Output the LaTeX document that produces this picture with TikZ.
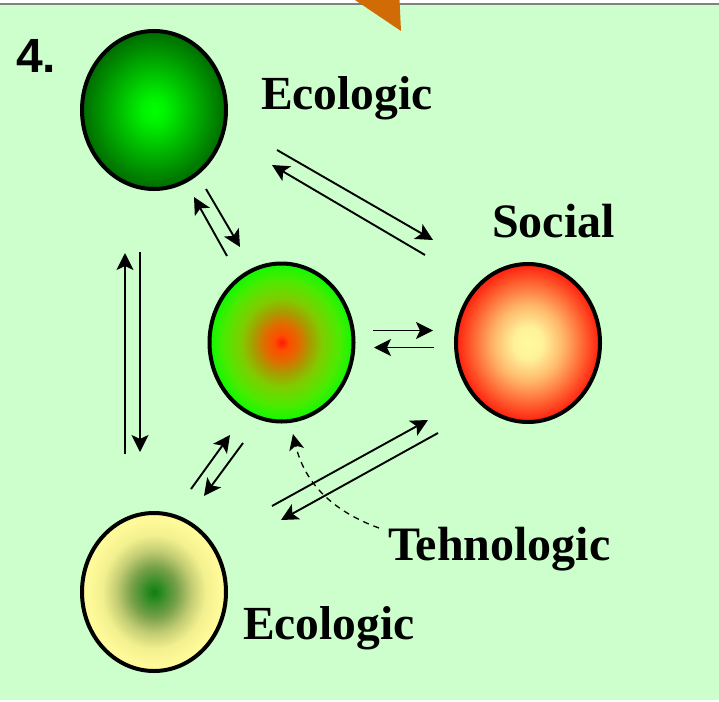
\documentclass[tikz,border=0pt]{standalone}
\usepackage{fontspec}
\setmainfont{Liberation Serif}
\setsansfont{Liberation Sans}
\usetikzlibrary{shapes.geometric,arrows.meta}
\definecolor{bgg}{RGB}{204,255,204}
\definecolor{ora}{RGB}{209,107,5}
\pgfdeclareradialshading{shGreen}{\pgfpoint{0bp}{0bp}}{
  rgb(0bp)=(0,1,0); rgb(4bp)=(0,0.95,0); rgb(13bp)=(0,0.72,0); rgb(25bp)=(0,0.42,0); rgb(50bp)=(0,0.42,0)}
\pgfdeclareradialshading{shTech}{\pgfpoint{0bp}{0bp}}{
  rgb(0bp)=(1,0.10,0.04); rgb(2.5bp)=(1,0.30,0); rgb(6bp)=(0.88,0.42,0); rgb(10bp)=(0.65,0.62,0); rgb(14bp)=(0.50,0.80,0); rgb(20bp)=(0.30,0.92,0); rgb(25bp)=(0.05,0.98,0); rgb(50bp)=(0.05,0.98,0)}
\pgfdeclareradialshading{shSoc}{\pgfpoint{0bp}{0bp}}{
  rgb(0bp)=(1,0.98,0.62); rgb(5bp)=(1,0.95,0.60); rgb(12bp)=(1,0.72,0.42); rgb(19bp)=(1,0.40,0.20); rgb(25bp)=(1,0.12,0.05); rgb(50bp)=(1,0.12,0.05)}
\pgfdeclareradialshading{shYel}{\pgfpoint{0bp}{0bp}}{
  rgb(0bp)=(0.06,0.50,0.06); rgb(3bp)=(0.20,0.55,0.15); rgb(8bp)=(0.47,0.63,0.29); rgb(13bp)=(0.76,0.80,0.45); rgb(18bp)=(0.95,0.94,0.56); rgb(23bp)=(1,0.98,0.60); rgb(50bp)=(1,0.98,0.60)}
\tikzset{
  ball/.style={ellipse,draw=black,line width=4pt,minimum width=144pt,minimum height=158pt,inner sep=0pt},
  lab/.style={font=\fontsize{48}{48}\selectfont\bfseries,text=black,inner sep=0pt},
  labe/.style={font=\fontsize{47.5}{48}\selectfont\bfseries,text=black,inner sep=0pt},
  arr/.style={draw=black,line width=1.9pt,-{Stealth[length=17pt,width=17pt,inset=4pt]}},
  darr/.style={draw=black,line width=1.3pt,dash pattern=on 6pt off 5pt,-{Stealth[length=16pt,width=15pt,inset=4pt]}}
}
\begin{document}
\begin{tikzpicture}[x=1pt,y=-1pt]
\useasboundingbox (0,0) rectangle (719,701);
\fill[white] (0,0) rectangle (719,701);
\fill[bgg] (0,4) rectangle (719,700);
\draw[gray,line width=1.5pt] (0,4) -- (719,4);
\fill[ora] (355,0) -- (401,31) -- (399.5,0) -- cycle;
\node[ball,shading=shGreen] (eco1) at (154,110) {};
\node[ball,shading=shTech] (tech) at (281.5,342.5) {};
\node[ball,shading=shSoc] (soc) at (528,343) {};
\node[ball,shading=shYel] (eco2) at (154,592) {};
\node[font=\sffamily\bfseries\fontsize{48}{48}\selectfont,inner sep=0pt,anchor=base west] (num) at (16,72) {4.};
\node[labe,anchor=base west] (l1) at (261,109) {Ecologic};
\node[lab,anchor=base west] (l2) at (492,237) {Social};
\node[lab,anchor=base west] (l3) at (388,560) {Tehnologic};
\node[labe,anchor=base west] (l4) at (243,639) {Ecologic};
\foreach \n/\xa/\ya/\xb/\yb in {
 a/277/150/433/240, b/425/255/272/165,
 c/206/189/240/247, d/227/256/194/197,
 e/125/454/125/253, f/140/252/140/452,
 g/191/489/230/435, h/243/443/204/496,
 i/272/506/428/420, j/438/433/281/520,
 k/373/330.5/433/330.5, m/434/347.5/374/347.5}{
  \coordinate (\n s) at (\xa,\ya);
  \coordinate (\n t) at (\xb,\yb);
  \draw[arr] (\n s) -- (\n t);
}
\coordinate (dt) at (293,434);
\coordinate (ds) at (379,528);
\draw[darr] (ds) .. controls (335,512) and (305,485) .. (dt);
\end{tikzpicture}
\end{document}
